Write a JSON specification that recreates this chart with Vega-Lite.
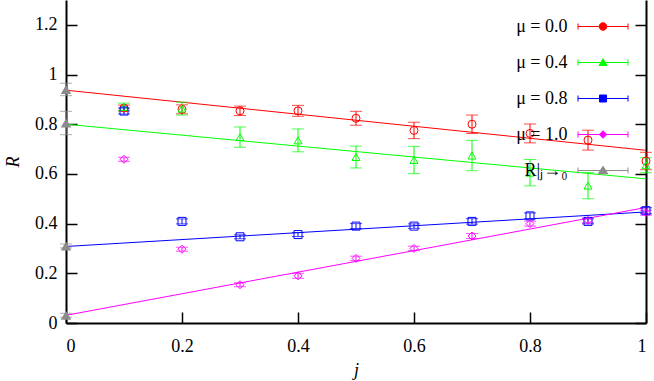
{
  "$schema": "https://vega.github.io/schema/vega-lite/v6.json",
  "width": 580,
  "height": 323,
  "autosize": {"type": "none"},
  "padding": {"left": 66, "top": 0, "right": 8, "bottom": 58},
  "background": "white",
  "config": {
    "view": {"stroke": null},
    "font": "Liberation Serif",
    "axis": {
      "grid": false,
      "domainColor": "black",
      "domainWidth": 2,
      "tickColor": "black",
      "tickWidth": 1.5,
      "tickSize": -11,
      "labelFont": "Liberation Serif",
      "labelFontSize": 18,
      "labelColor": "black",
      "titleFont": "Liberation Serif",
      "titleFontSize": 18,
      "titleFontWeight": "normal",
      "titleFontStyle": "italic",
      "titleColor": "black"
    },
    "legend": {
      "orient": "none",
      "legendX": 511.5,
      "legendY": 1,
      "padding": 0,
      "labelFont": "Liberation Serif",
      "labelFontSize": 18,
      "labelColor": "black",
      "labelAlign": "right",
      "labelOffset": -61,
      "labelLimit": 0,
      "symbolSize": 2500,
      "symbolStrokeWidth": 1,
      "symbolOpacity": 1,
      "rowPadding": 1
    }
  },
  "datasets": {
    "pts": [
      {"mu": "μ = 0.0", "j": 0.1, "R": 0.865, "lo": 0.853, "hi": 0.877},
      {"mu": "μ = 0.0", "j": 0.2, "R": 0.860, "lo": 0.842, "hi": 0.878},
      {"mu": "μ = 0.0", "j": 0.3, "R": 0.854, "lo": 0.835, "hi": 0.873},
      {"mu": "μ = 0.0", "j": 0.4, "R": 0.854, "lo": 0.832, "hi": 0.876},
      {"mu": "μ = 0.0", "j": 0.5, "R": 0.824, "lo": 0.796, "hi": 0.852},
      {"mu": "μ = 0.0", "j": 0.6, "R": 0.775, "lo": 0.742, "hi": 0.808},
      {"mu": "μ = 0.0", "j": 0.7, "R": 0.800, "lo": 0.763, "hi": 0.837},
      {"mu": "μ = 0.0", "j": 0.8, "R": 0.763, "lo": 0.725, "hi": 0.801},
      {"mu": "μ = 0.0", "j": 0.9, "R": 0.736, "lo": 0.696, "hi": 0.776},
      {"mu": "μ = 0.0", "j": 1.0, "R": 0.652, "lo": 0.617, "hi": 0.687},
      {"mu": "μ = 0.4", "j": 0.1, "R": 0.870, "lo": 0.855, "hi": 0.885},
      {"mu": "μ = 0.4", "j": 0.2, "R": 0.863, "lo": 0.837, "hi": 0.889},
      {"mu": "μ = 0.4", "j": 0.3, "R": 0.748, "lo": 0.707, "hi": 0.789},
      {"mu": "μ = 0.4", "j": 0.4, "R": 0.735, "lo": 0.689, "hi": 0.781},
      {"mu": "μ = 0.4", "j": 0.5, "R": 0.668, "lo": 0.624, "hi": 0.712},
      {"mu": "μ = 0.4", "j": 0.6, "R": 0.656, "lo": 0.601, "hi": 0.711},
      {"mu": "μ = 0.4", "j": 0.7, "R": 0.674, "lo": 0.613, "hi": 0.735},
      {"mu": "μ = 0.4", "j": 0.8, "R": 0.605, "lo": 0.552, "hi": 0.658},
      {"mu": "μ = 0.4", "j": 0.9, "R": 0.553, "lo": 0.500, "hi": 0.606},
      {"mu": "μ = 0.4", "j": 1.0, "R": 0.635, "lo": 0.605, "hi": 0.665},
      {"mu": "μ = 0.8", "j": 0.1, "R": 0.853, "lo": 0.841, "hi": 0.865},
      {"mu": "μ = 0.8", "j": 0.2, "R": 0.409, "lo": 0.399, "hi": 0.419},
      {"mu": "μ = 0.8", "j": 0.3, "R": 0.347, "lo": 0.339, "hi": 0.355},
      {"mu": "μ = 0.8", "j": 0.4, "R": 0.356, "lo": 0.348, "hi": 0.364},
      {"mu": "μ = 0.8", "j": 0.5, "R": 0.390, "lo": 0.380, "hi": 0.400},
      {"mu": "μ = 0.8", "j": 0.6, "R": 0.390, "lo": 0.381, "hi": 0.399},
      {"mu": "μ = 0.8", "j": 0.7, "R": 0.409, "lo": 0.398, "hi": 0.420},
      {"mu": "μ = 0.8", "j": 0.8, "R": 0.431, "lo": 0.419, "hi": 0.443},
      {"mu": "μ = 0.8", "j": 0.9, "R": 0.409, "lo": 0.399, "hi": 0.419},
      {"mu": "μ = 0.8", "j": 1.0, "R": 0.452, "lo": 0.440, "hi": 0.464},
      {"mu": "μ = 1.0", "j": 0.1, "R": 0.659, "lo": 0.651, "hi": 0.667},
      {"mu": "μ = 1.0", "j": 0.2, "R": 0.297, "lo": 0.289, "hi": 0.305},
      {"mu": "μ = 1.0", "j": 0.3, "R": 0.154, "lo": 0.146, "hi": 0.162},
      {"mu": "μ = 1.0", "j": 0.4, "R": 0.190, "lo": 0.180, "hi": 0.200},
      {"mu": "μ = 1.0", "j": 0.5, "R": 0.260, "lo": 0.251, "hi": 0.269},
      {"mu": "μ = 1.0", "j": 0.6, "R": 0.300, "lo": 0.291, "hi": 0.309},
      {"mu": "μ = 1.0", "j": 0.7, "R": 0.350, "lo": 0.340, "hi": 0.360},
      {"mu": "μ = 1.0", "j": 0.8, "R": 0.400, "lo": 0.390, "hi": 0.410},
      {"mu": "μ = 1.0", "j": 0.9, "R": 0.413, "lo": 0.403, "hi": 0.423},
      {"mu": "μ = 1.0", "j": 1.0, "R": 0.444, "lo": 0.434, "hi": 0.454},
      {"mu": "R|ⱼ→₀", "j": 0.0, "R": 0.940, "lo": 0.915, "hi": 0.965},
      {"mu": "R|ⱼ→₀", "j": 0.0, "R": 0.805, "lo": 0.758, "hi": 0.852},
      {"mu": "R|ⱼ→₀", "j": 0.0, "R": 0.310, "lo": 0.302, "hi": 0.318},
      {"mu": "R|ⱼ→₀", "j": 0.0, "R": 0.031, "lo": 0.023, "hi": 0.039}
    ],
    "fits": [
      {"mu": "μ = 0.0", "j": 0, "R": 0.937},
      {"mu": "μ = 0.0", "j": 1, "R": 0.695},
      {"mu": "μ = 0.4", "j": 0, "R": 0.800},
      {"mu": "μ = 0.4", "j": 1, "R": 0.580},
      {"mu": "μ = 0.8", "j": 0, "R": 0.308},
      {"mu": "μ = 0.8", "j": 1, "R": 0.447},
      {"mu": "μ = 1.0", "j": 0, "R": 0.031},
      {"mu": "μ = 1.0", "j": 1, "R": 0.465}
    ]
  },
  "layer": [
    {
      "data": {"name": "pts"},
      "transform": [{"filter": "false"}],
      "mark": {"type": "point", "filled": false, "strokeWidth": 1},
      "encoding": {
        "x": {"field": "j", "type": "quantitative", "axis": null},
        "y": {"field": "R", "type": "quantitative", "axis": null},
        "color": {"field": "mu", "type": "nominal", "legend": {"title": null},
                  "scale": {"domain": ["μ = 0.0", "μ = 0.4", "μ = 0.8", "μ = 1.0", "R|ⱼ→₀"],
                            "range": ["#ff0000", "#00ff00", "#0000ff", "#ff00ff", "#8c8c8c"]}},
        "shape": {"field": "mu", "type": "nominal", "legend": {"title": null},
                  "scale": {"domain": ["μ = 0.0", "μ = 0.4", "μ = 0.8", "μ = 1.0", "R|ⱼ→₀"],
                            "range": [
                              "M-1,0H-0.15M0.15,0H1M-1,-0.12V0.12M1,-0.12V0.12M0.15,0A0.15,0.15,0,1,1,-0.15,0A0.15,0.15,0,1,1,0.15,0",
                              "M-1,0H1M-1,-0.12V0.12M1,-0.12V0.12M0,-0.15L0.16,0.12L-0.16,0.12Z",
                              "M-1,0H1M-1,-0.12V0.12M1,-0.12V0.12M-0.14,-0.14H0.14V0.14H-0.14Z",
                              "M-1,0H1M-1,-0.12V0.12M1,-0.12V0.12M0,-0.15L0.15,0L0,0.15L-0.15,0Z",
                              "M-1,0H1M-1,-0.12V0.12M1,-0.12V0.12M0,-0.17L0.19,0.13L-0.19,0.13ZM0,-0.1L0.12,0.1L-0.12,0.1ZM0,-0.03L0.05,0.07L-0.05,0.07Z"
                            ]}}
      }
    },
    {
      "data": {"name": "fits"},
      "mark": {"type": "line", "strokeWidth": 1},
      "encoding": {
        "x": {"field": "j", "type": "quantitative", "scale": {"domain": [0, 1]}, "axis": null},
        "y": {"field": "R", "type": "quantitative", "scale": {"domain": [0, 1.252]},
              "axis": {"orient": "right", "labels": false, "title": null, "values": [0, 0.2, 0.4, 0.6, 0.8, 1, 1.2]}},
        "color": {"field": "mu", "type": "nominal", "legend": null},
        "detail": {"field": "mu"}
      }
    },
    {
      "data": {"name": "pts"},
      "mark": {"type": "rule", "strokeWidth": 1},
      "encoding": {
        "x": {"field": "j", "type": "quantitative", "axis": null},
        "y": {"field": "lo", "type": "quantitative", "axis": null},
        "y2": {"field": "hi"},
        "color": {"field": "mu", "type": "nominal", "legend": null}
      }
    },
    {
      "data": {"name": "pts"},
      "mark": {"type": "tick", "orient": "horizontal", "size": 12, "thickness": 1},
      "encoding": {
        "x": {"field": "j", "type": "quantitative", "axis": null},
        "y": {"field": "lo", "type": "quantitative", "axis": null},
        "color": {"field": "mu", "type": "nominal", "legend": null}
      }
    },
    {
      "data": {"name": "pts"},
      "mark": {"type": "tick", "orient": "horizontal", "size": 12, "thickness": 1},
      "encoding": {
        "x": {"field": "j", "type": "quantitative", "axis": null},
        "y": {"field": "hi", "type": "quantitative", "axis": null},
        "color": {"field": "mu", "type": "nominal", "legend": null}
      }
    },
    {
      "data": {"name": "pts"},
      "transform": [{"filter": {"field": "mu", "equal": "μ = 0.0"}}],
      "mark": {"type": "point", "filled": false, "shape": "circle", "strokeWidth": 1, "size": 64, "opacity": 1},
      "encoding": {
        "x": {"field": "j", "type": "quantitative",
              "axis": {"orient": "bottom", "title": "j", "values": [0, 0.2, 0.4, 0.6, 0.8, 1], "format": "~g", "labelPadding": 25, "titlePadding": 6}},
        "y": {"field": "R", "type": "quantitative",
              "axis": {"orient": "left", "title": "R", "values": [0, 0.2, 0.4, 0.6, 0.8, 1, 1.2], "format": "~g", "labelPadding": 20, "titlePadding": 12}},
        "color": {"field": "mu", "type": "nominal", "legend": null}
      }
    },
    {
      "data": {"name": "pts"},
      "transform": [{"filter": {"field": "mu", "equal": "μ = 0.4"}}],
      "mark": {"type": "point", "filled": false, "shape": "triangle-up", "strokeWidth": 1, "size": 64, "opacity": 1},
      "encoding": {
        "x": {"field": "j", "type": "quantitative", "axis": null},
        "y": {"field": "R", "type": "quantitative", "axis": null},
        "color": {"field": "mu", "type": "nominal", "legend": null}
      }
    },
    {
      "data": {"name": "pts"},
      "transform": [{"filter": {"field": "mu", "equal": "μ = 0.8"}}],
      "mark": {"type": "point", "filled": false, "shape": "square", "strokeWidth": 1, "size": 64, "opacity": 1},
      "encoding": {
        "x": {"field": "j", "type": "quantitative", "axis": null},
        "y": {"field": "R", "type": "quantitative", "axis": null},
        "color": {"field": "mu", "type": "nominal", "legend": null}
      }
    },
    {
      "data": {"name": "pts"},
      "transform": [{"filter": {"field": "mu", "equal": "μ = 1.0"}}],
      "mark": {"type": "point", "filled": false, "shape": "diamond", "strokeWidth": 1, "size": 64, "opacity": 1},
      "encoding": {
        "x": {"field": "j", "type": "quantitative", "axis": null},
        "y": {"field": "R", "type": "quantitative", "axis": null},
        "color": {"field": "mu", "type": "nominal", "legend": null}
      }
    },
    {
      "data": {"name": "pts"},
      "transform": [{"filter": {"field": "mu", "equal": "R|ⱼ→₀"}}],
      "mark": {"type": "point", "filled": true, "shape": "triangle-up", "size": 110, "opacity": 1},
      "encoding": {
        "x": {"field": "j", "type": "quantitative", "axis": null},
        "y": {"field": "R", "type": "quantitative", "axis": null},
        "color": {"field": "mu", "type": "nominal", "legend": null}
      }
    }
  ],
  "resolve": {"axis": {"x": "independent", "y": "independent"}}
}
